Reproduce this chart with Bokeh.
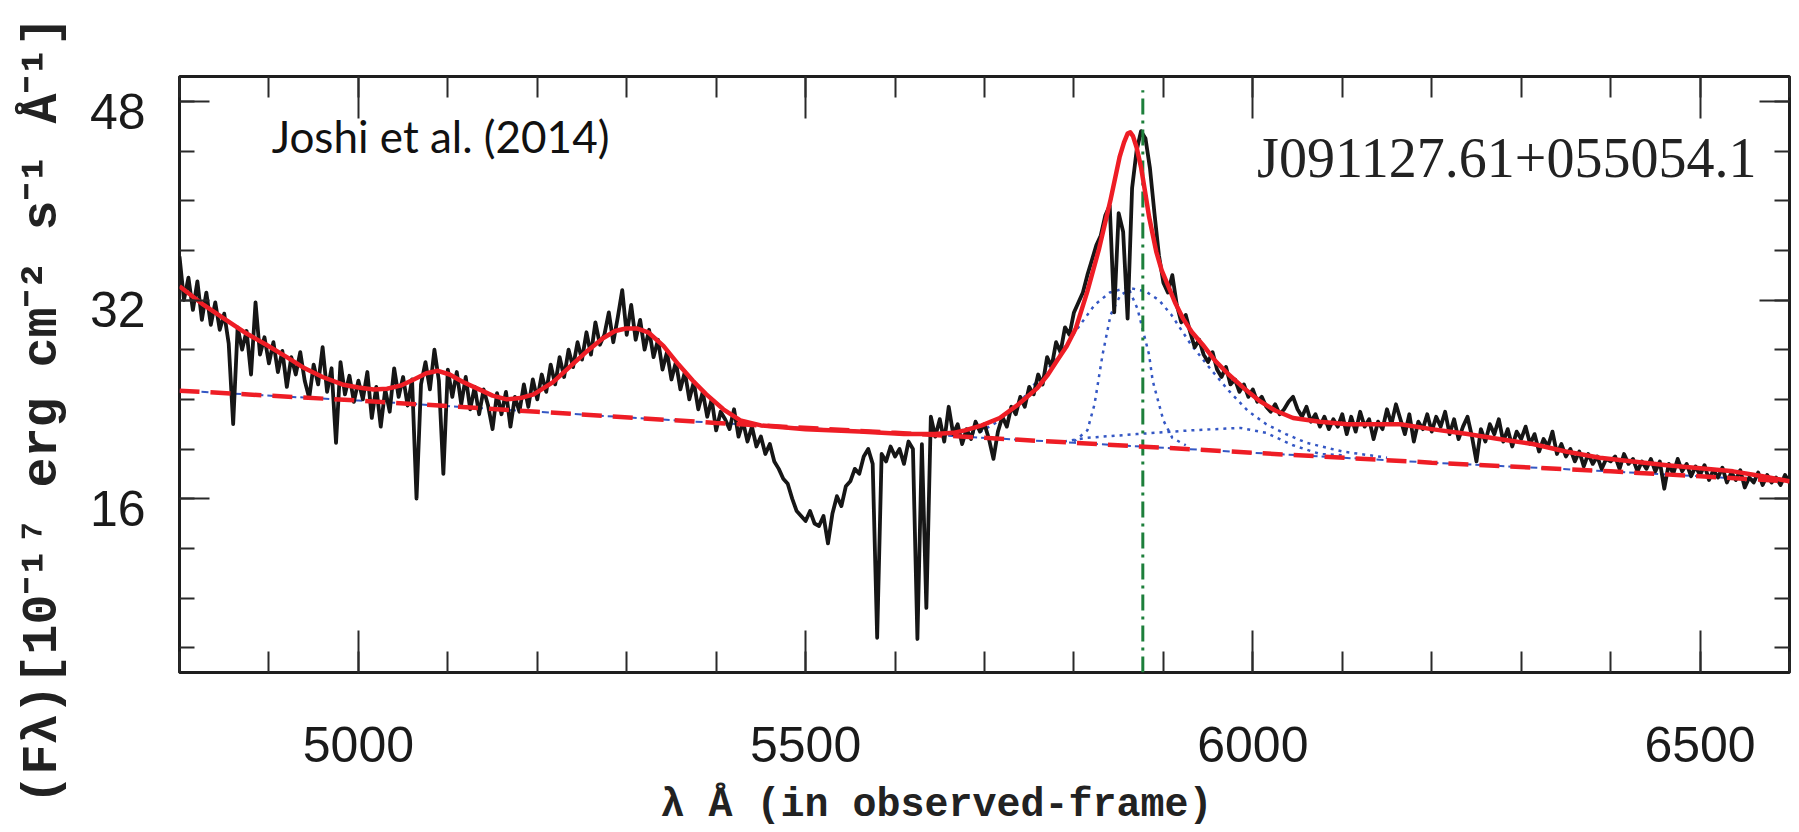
from bokeh.plotting import figure
from bokeh.models import Range1d, LinearAxis, FixedTicker, Label, Title
from bokeh.embed import file_html
from bokeh.resources import INLINE

# ---------------- data ----------------
# observed spectrum, sampled every 5 A from 4800 to 6600 A
wave = list(range(4800, 6601, 5))
flux = [
    35.5, 32.0, 33.8, 31.2, 33.5, 30.4, 32.6, 30.0, 31.8, 29.6,   # 4800
    30.9, 28.5, 22.0, 29.8, 28.0, 29.5, 26.0, 31.8, 27.6, 29.0,   # 4850
    26.9, 28.6, 26.2, 27.9, 25.0, 27.4, 26.0, 27.8, 25.5, 24.1,   # 4900
    26.8, 25.2, 28.2, 24.6, 26.5, 20.5, 27.0, 24.4, 25.9, 23.8,   # 4950
    25.5, 24.0, 26.2, 22.5, 25.0, 21.8, 24.8, 23.0, 26.5, 24.2,   # 5000
    25.8, 23.5, 25.6, 16.0, 25.2, 27.0, 24.8, 28.0, 25.5, 18.0,   # 5050
    26.4, 24.2, 26.2, 23.6, 25.8, 23.2, 25.0, 22.8, 24.8, 23.5,   # 5100
    21.6, 24.5, 22.8, 24.6, 21.8, 24.2, 23.0, 25.2, 23.4, 25.6,   # 5150
    24.0, 26.0, 24.6, 26.8, 25.2, 27.4, 25.8, 28.0, 26.6, 28.6,   # 5200
    27.2, 29.4, 27.6, 30.2, 28.4, 29.2, 31.0, 28.6, 30.6, 32.8,   # 5250
    29.2, 31.6, 28.8, 30.4, 28.0, 29.6, 27.4, 28.8, 26.4, 27.8,   # 5300
    25.6, 27.0, 24.8, 26.2, 24.0, 25.4, 23.2, 24.6, 22.6, 24.0,   # 5350
    21.5, 23.0, 22.4, 21.6, 23.2, 21.0, 22.2, 20.6, 21.8, 20.2,   # 5400
    21.0, 19.6, 20.4, 19.0, 18.4, 17.6, 17.2, 16.0, 15.0, 14.6,   # 5450
    14.2, 15.0, 14.0, 13.8, 14.6, 12.4, 14.8, 16.2, 15.4, 17.0,   # 5500
    17.4, 18.4, 18.0, 19.4, 20.0, 18.8, 4.8, 19.6, 19.0, 20.2,    # 5550
    19.4, 20.0, 18.8, 20.6, 20.0, 4.7, 20.4, 7.2, 22.6, 21.0,     # 5600
    22.4, 20.6, 23.4, 21.2, 22.0, 20.4, 21.6, 20.8, 22.2, 21.4,   # 5650
    22.0, 20.8, 19.2, 21.4, 22.6, 21.8, 23.4, 22.8, 24.2, 23.4,   # 5700
    25.0, 24.4, 26.0, 25.2, 27.4, 26.6, 28.6, 27.8, 29.8, 29.2,   # 5750
    31.0, 31.8, 32.6, 34.0, 35.2, 36.4, 37.2, 38.8, 39.6, 31.0,   # 5800
    39.0, 37.5, 30.5, 41.0, 44.0, 45.6, 45.0, 42.6, 39.0, 35.6,   # 5850
    33.4, 32.6, 34.0, 31.6, 30.2, 30.8, 29.4, 28.2, 28.8, 27.6,   # 5900
    27.0, 27.8, 26.4, 25.8, 26.6, 25.2, 25.6, 24.6, 25.2, 24.2,   # 5950
    24.8, 23.8, 24.2, 23.4, 23.0, 23.6, 22.8, 23.2, 23.8, 24.2,   # 6000
    23.2, 22.6, 23.4, 22.2, 22.8, 21.8, 22.6, 21.6, 22.4, 21.8,   # 6050
    22.8, 21.2, 22.6, 21.4, 23.0, 21.8, 22.4, 20.8, 22.2, 21.6,   # 6100
    23.2, 22.0, 23.6, 22.4, 21.2, 22.8, 20.6, 22.2, 21.6, 22.8,   # 6150
    21.4, 22.6, 21.8, 23.0, 21.2, 22.4, 20.8, 21.8, 22.6, 21.0,   # 6200
    19.0, 21.6, 20.6, 22.0, 21.2, 22.4, 20.6, 21.6, 20.2, 21.4,   # 6250
    20.8, 21.8, 20.4, 21.2, 19.8, 20.8, 20.2, 21.4, 19.6, 20.4,   # 6300
    19.4, 20.0, 19.0, 19.8, 18.6, 19.6, 18.8, 19.4, 18.4, 19.2,   # 6350
    19.0, 19.4, 18.4, 19.6, 18.8, 19.2, 18.2, 19.0, 18.4, 19.2,   # 6400
    18.2, 19.0, 16.8, 18.8, 18.0, 19.2, 18.2, 18.8, 17.8, 18.6,   # 6450
    17.9, 18.7, 17.5, 18.3, 17.7, 18.5, 17.3, 18.1, 17.5, 18.3,   # 6500
    16.9, 17.7, 17.3, 18.1, 17.1, 17.9, 17.3, 17.7, 17.1, 17.9,   # 6550
    17.3,                                                         # 6600
]

# total model fit (red solid)
fit_wave = [4800, 4827, 4854, 4875, 4897, 4920, 4940, 4960, 4982, 5000,
            5017, 5032, 5047, 5062, 5076, 5089, 5102, 5117, 5132, 5150,
            5166, 5181, 5196, 5218, 5239, 5256, 5273, 5287, 5299, 5312,
            5324, 5341, 5358, 5374, 5389, 5408, 5427, 5450, 5500, 5560,
            5610, 5644, 5665, 5678, 5697, 5717, 5738, 5759, 5771, 5781,
            5792, 5802, 5815, 5828, 5841, 5851, 5856, 5860, 5863, 5866,
            5870, 5875, 5880, 5884, 5892, 5898, 5905, 5913, 5922, 5932,
            5944, 5958, 5973, 5990, 6007, 6025, 6045, 6075, 6106, 6135,
            6165, 6200, 6240, 6275, 6313, 6350, 6388, 6425, 6463, 6500,
            6537, 6570, 6600]
fit_flux = [33.1, 31.6, 30.3, 29.3, 28.4, 27.4, 26.5, 25.8, 25.2, 24.95,
            24.8, 24.85, 25.1, 25.6, 26.1, 26.3, 26.0, 25.4, 24.9, 24.3,
            24.0, 24.1, 24.4, 25.4, 26.8, 27.9, 28.9, 29.5, 29.7, 29.7,
            29.4, 28.3, 26.8, 25.5, 24.4, 23.2, 22.3, 21.9, 21.6, 21.4,
            21.2, 21.2, 21.3, 21.5, 21.9, 22.5, 23.6, 24.9, 26.0, 27.1,
            28.3, 29.7, 32.7, 36.1, 40.1, 43.5, 44.7, 45.4, 45.5, 45.2,
            44.3, 42.7, 40.5, 38.7, 35.9, 34.4, 33.2, 31.8, 30.5, 29.4,
            28.4, 27.1, 26.0, 24.9, 23.9, 23.1, 22.5, 22.2, 22.0, 22.0,
            22.0, 21.6, 21.2, 20.8, 20.4, 19.8, 19.3, 19.0, 18.7, 18.45,
            18.2, 17.8, 17.4]

# power-law continuum (red dashed / blue dashed)
cont_wave = [4800, 5000, 5200, 5400, 5600, 5800, 6000, 6200, 6400, 6600]
cont_flux = [24.7, 23.9, 23.0, 22.1, 21.3, 20.5, 19.7, 18.9, 18.2, 17.4]

# individual line components (blue dotted)
broad_wave = [5650, 5696, 5717, 5738, 5759, 5781, 5802, 5823, 5840, 5860,
              5880, 5895, 5909, 5930, 5952, 5973, 5994, 6015, 6037, 6060,
              6100, 6150]
broad_flux = [21.1, 21.4, 22.3, 23.6, 25.5, 27.3, 29.5, 31.6, 32.6, 33.0,
              32.7, 32.0, 30.8, 28.5, 26.5, 24.7, 23.1, 22.0, 21.2, 20.5,
              19.8, 19.3]
narrow_wave = [5800, 5815, 5823, 5832, 5841, 5852, 5862, 5871, 5884, 5888,
               5900, 5910, 5925]
narrow_flux = [20.6, 21.5, 23.6, 27.6, 30.8, 32.4, 32.8, 31.3, 27.6, 25.5,
               22.3, 20.9, 20.3]
low_wave = [5780, 5815, 5870, 5930, 5986, 6015, 6045, 6075, 6100]
low_flux = [20.5, 20.9, 21.2, 21.5, 21.7, 21.3, 20.3, 19.6, 19.5]

# vertical marker (dash-dot green line)
marker_wave = 5877
marker_top = 48.9

# axes
x_major = [5000, 5500, 6000, 6500]
x_minor = [4800, 4900, 5000, 5100, 5200, 5300, 5400, 5500, 5600, 5700,
           5800, 5900, 6000, 6100, 6200, 6300, 6400, 6500, 6600]
y_major = [16, 32, 48]
y_minor = [4, 8, 12, 16, 20, 24, 28, 32, 36, 40, 44, 48]

NBSP = "\u00a0"
x_title = "λ Å (in observed-frame)"
y_title = "(Fλ)[10⁻¹⁷ erg cm⁻² s⁻¹ Å⁻¹]"

# ---------------- figure ----------------
p = figure(width=1797, height=830,
           x_range=Range1d(4800, 6600), y_range=Range1d(2, 50),
           output_backend="svg", toolbar_location=None,
           x_axis_location=None, y_axis_location=None,
           min_border_left=178, min_border_right=8,
           min_border_top=76, min_border_bottom=153,
           background_fill_color="white", border_fill_color="white",
           outline_line_color="#1e1e1e", outline_line_width=3)
p.grid.visible = False
p.extra_y_ranges = {"lab": Range1d(2.8, 50.8)}

TICK = "#2a2a2a"


def style_ticks(ax, major_len, minor_len):
    ax.major_tick_in = major_len
    ax.major_tick_out = 0
    ax.minor_tick_in = minor_len
    ax.minor_tick_out = 0
    ax.major_tick_line_color = TICK
    ax.minor_tick_line_color = TICK
    ax.major_tick_line_width = 2
    ax.minor_tick_line_width = 2
    ax.axis_line_color = None


TICK_FONT = "Liberation Sans"
TITLE_FONT = "Liberation Mono"

xb = LinearAxis(ticker=FixedTicker(ticks=x_major, minor_ticks=x_minor))
style_ticks(xb, 42, 21)
xb.major_label_text_font = TICK_FONT
xb.major_label_text_font_size = "50px"
xb.major_label_text_color = "#1a1a1a"
xb.major_label_standoff = 54
xb.axis_label = x_title + NBSP * 4
xb.axis_label_text_font = TITLE_FONT
xb.axis_label_text_font_style = "bold"
xb.axis_label_text_font_size = "40px"
xb.axis_label_text_color = "#222222"
xb.axis_label_standoff = 18
p.add_layout(xb, "below")

xt = LinearAxis(ticker=FixedTicker(ticks=x_major, minor_ticks=x_minor),
                major_label_overrides={v: "" for v in x_major})
style_ticks(xt, 42, 21)
xt.major_label_standoff = 0
p.add_layout(xt, "above")

yr = LinearAxis(ticker=FixedTicker(ticks=y_major, minor_ticks=y_minor),
                major_label_overrides={v: "" for v in y_major})
style_ticks(yr, 30, 15)
yr.major_label_standoff = 0
p.add_layout(yr, "right")

yl = LinearAxis(ticker=FixedTicker(ticks=y_major, minor_ticks=y_minor),
                major_label_overrides={v: "" for v in y_major})
style_ticks(yl, 30, 15)
yl.major_label_standoff = 0
p.add_layout(yl, "left")

ylab = LinearAxis(y_range_name="lab",
                  ticker=FixedTicker(ticks=y_major, minor_ticks=[]))
style_ticks(ylab, 0, 0)
ylab.major_label_text_font = TICK_FONT
ylab.major_label_text_font_size = "50px"
ylab.major_label_text_color = "#1a1a1a"
ylab.major_label_standoff = 34
p.add_layout(ylab, "left")

# y-axis title, placed outside the tick labels and started below the frame
p.add_layout(Title(text=y_title, align="left", offset=-132,
                   vertical_align="top", standoff=27,
                   text_font=TITLE_FONT, text_font_style="bold",
                   text_font_size="50px", text_color="#222222"), "left")

# ---------------- glyphs ----------------
p.line(cont_wave, cont_flux, line_color="#3457c4", line_width=2,
       line_dash="7 4")
for cw, cf in ((broad_wave, broad_flux), (narrow_wave, narrow_flux),
               (low_wave, low_flux)):
    p.line(cw, cf, line_color="#3457c4", line_width=2.5, line_dash="3 5")

p.line(wave, flux, line_color="#161616", line_width=3.8, line_join="round")

p.line([marker_wave, marker_wave], [2, marker_top], line_color="#1d7f3b",
       line_width=3, line_dash="16 6 3 6")

p.line(cont_wave, cont_flux, line_color="#ee1d25", line_width=4.5,
       line_dash="20 11")
p.line(fit_wave, fit_flux, line_color="#ee1d25", line_width=4.5,
       line_join="round")

# ---------------- texts ----------------
p.add_layout(Label(x=4903, y=45.2, text="Joshi et al. (2014)",
                   text_font="Lato", text_font_size="44px",
                   text_color="#111111", text_align="left",
                   text_baseline="alphabetic"))
p.add_layout(Label(x=6563, y=43.45, text="J091127.61+055054.1",
                   text_font="Liberation Serif", text_font_size="56px",
                   text_color="#222222", text_align="right",
                   text_baseline="alphabetic"))

open("out.html", "w").write(file_html(p, INLINE))
